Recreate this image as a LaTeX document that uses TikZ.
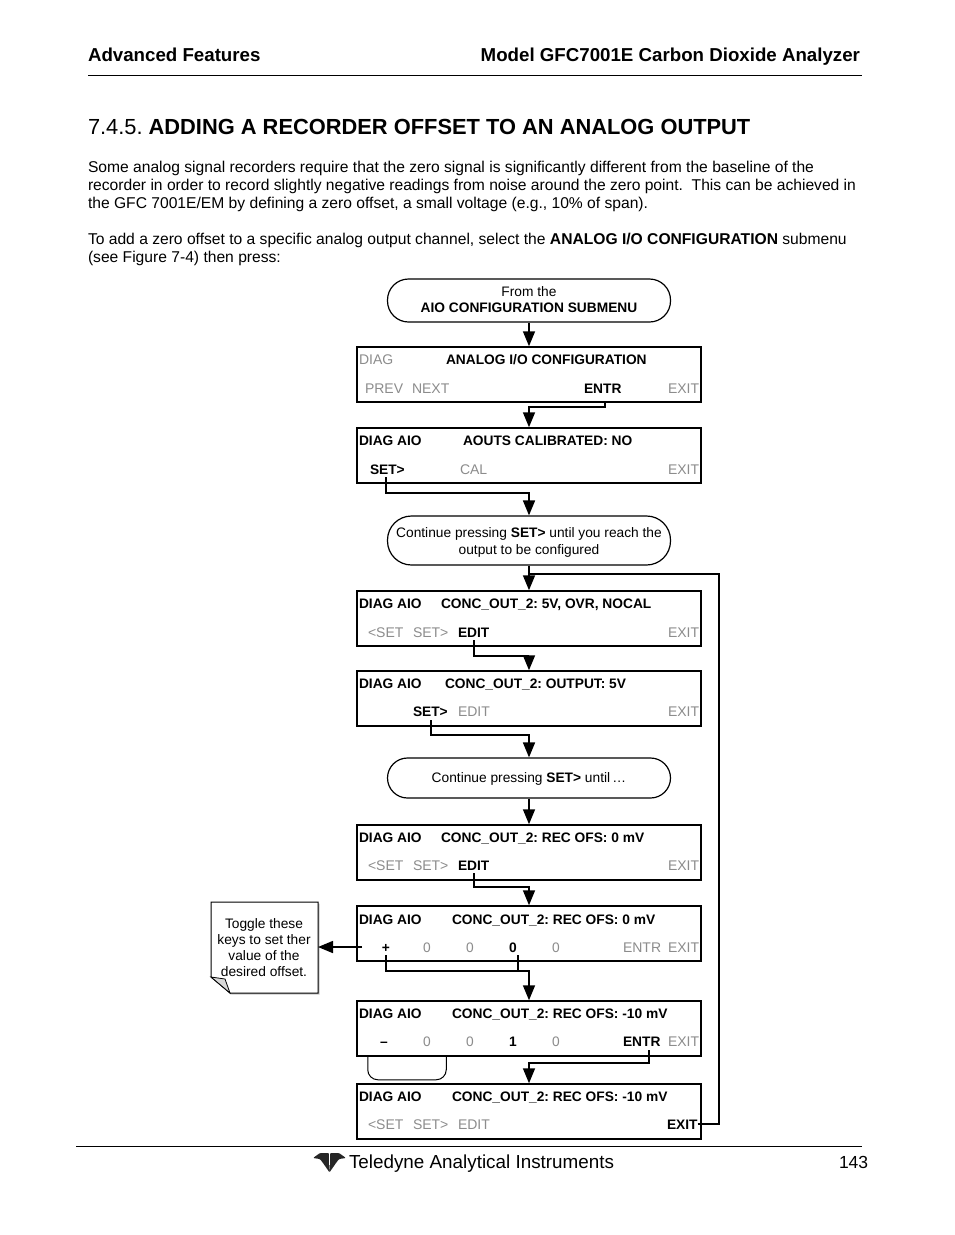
\documentclass[tikz,border=0pt]{standalone}
\usepackage{fontspec}
\usetikzlibrary{arrows.meta,calc}
\setmainfont{Liberation Sans}
\definecolor{keygray}{gray}{0.55}
\tikzset{
 txt/.style={anchor=base west,inner sep=0pt,outer sep=0pt,font=\fontsize{15.63}{18}\selectfont},
 ctxt/.style={anchor=base,inner sep=0pt,outer sep=0pt,font=\fontsize{13.75}{17}\selectfont},
 ltxt/.style={anchor=base west,inner sep=0pt,outer sep=0pt,font=\fontsize{14}{17}\selectfont},
 on/.style={font=\fontsize{13.75}{17}\selectfont\bfseries},
 off/.style={text=keygray},
 lcd/.style={draw,line width=1.5pt},
 term/.style={draw,line width=1.2pt},
 conn/.style={line width=1.6pt},
 arr/.style={conn,-{Triangle[length=15pt,width=12pt]}},
 rule/.style={line width=1.2pt},
 wing/.style={fill=black!85,rounded corners=1pt}
}
\begin{document}
\frenchspacing
\begin{tikzpicture}[x=1pt,y=-1pt]
\useasboundingbox (0,0) rectangle (954,1235);
\fill[white] (0,0) rectangle (954,1235);
% header
\node[txt,font=\fontsize{18.7}{20}\selectfont\bfseries] (h1) at (88,61) {Advanced Features};
\node[txt,anchor=base east,font=\fontsize{18.7}{20}\selectfont\bfseries] (h2) at (860,61) {Model GFC7001E Carbon Dioxide Analyzer};
\draw[rule] (88,75.5) -- (862,75.5);
\node[txt,font=\fontsize{21.85}{24}\selectfont] (ttl) at (88,134) {7.4.5.\hspace{6pt}\textbf{ADDING A RECORDER OFFSET TO AN ANALOG OUTPUT}};
\node[txt] (p1) at (88,172) {Some analog signal recorders require that the zero signal is significantly different from the baseline of the};
\node[txt] (p2) at (88,190) {recorder in order to record slightly negative readings from noise around the zero point.\ \ This can be achieved in};
\node[txt] (p3) at (88,208) {the GFC 7001E/EM by defining a zero offset, a small voltage (e.g., 10\% of span).};
\node[txt] (p4) at (88,244) {To add a zero offset to a specific analog output channel, select the \textbf{ANALOG I/O CONFIGURATION} submenu};
\node[txt] (p5) at (88,262) {(see Figure 7-4) then press:};
% terminators
\node[term,minimum width=283pt,minimum height=43pt,rounded corners=21pt] (t1) at (529,300.5) {};
\node[ctxt] at (529,296) {From the};
\node[ctxt,on] at (529,312) {AIO CONFIGURATION SUBMENU};
\node[term,minimum width=283pt,minimum height=49pt,rounded corners=24pt] (t2) at (529,540.5) {};
\node[ctxt] at (529,537) {Continue pressing \textbf{SET>} until you reach the};
\node[ctxt] at (529,554) {output to be configured};
\node[term,minimum width=283pt,minimum height=40pt,rounded corners=20pt] (t3) at (529,778) {};
\node[ctxt] at (529,782) {Continue pressing \textbf{SET>} until\,\dots};
% boxes
\foreach \n/\y in {b1/347,b2/428,b3/591,b4/671,b5/825,b6/906,b7/1001,b8/1084}
  \node[lcd,minimum width=344pt,minimum height=55pt,inner sep=0pt] (\n) at (529,\y+27.5) {};
% box 1
\node[ltxt,off] at (359,364) {DIAG};
\node[ltxt,on] at (446,364) {ANALOG I/O CONFIGURATION};
\node[ltxt,off] (k1a) at (365,393) {PREV};
\node[ltxt,off] (k1b) at (412,393) {NEXT};
\node[ltxt,on] (k1c) at (584,393) {ENTR};
\node[ltxt,off] (k1d) at (668,393) {EXIT};
% box 2
\node[ltxt,on] at (359,445) {DIAG AIO};
\node[ltxt,on] at (463,445) {AOUTS CALIBRATED: NO};
\node[ltxt,on] (k2a) at (370,474) {SET>};
\node[ltxt,off] (k2b) at (460,474) {CAL};
\node[ltxt,off] (k2c) at (668,474) {EXIT};
% box 3
\node[ltxt,on] at (359,608) {DIAG AIO};
\node[ltxt,on] at (441,608) {CONC\_OUT\_2: 5V, OVR, NOCAL};
\node[ltxt,off] at (368,637) {<SET};
\node[ltxt,off] at (413,637) {SET>};
\node[ltxt,on] (k3a) at (458,637) {EDIT};
\node[ltxt,off] at (668,637) {EXIT};
% box 4
\node[ltxt,on] at (359,688) {DIAG AIO};
\node[ltxt,on] at (445,688) {CONC\_OUT\_2: OUTPUT: 5V};
\node[ltxt,on] (k4a) at (413,716) {SET>};
\node[ltxt,off] at (458,716) {EDIT};
\node[ltxt,off] at (668,716) {EXIT};
% box 5
\node[ltxt,on] at (359,842) {DIAG AIO};
\node[ltxt,on] at (441,842) {CONC\_OUT\_2: REC OFS: 0 mV};
\node[ltxt,off] at (368,870) {<SET};
\node[ltxt,off] at (413,870) {SET>};
\node[ltxt,on] (k5a) at (458,870) {EDIT};
\node[ltxt,off] at (668,870) {EXIT};
% box 6
\node[ltxt,on] at (359,924) {DIAG AIO};
\node[ltxt,on] at (452,924) {CONC\_OUT\_2: REC OFS: 0 mV};
\node[ctxt,on] (k6a) at (386,952) {+};
\node[ctxt,off] at (427,952) {0};
\node[ctxt,off] at (470,952) {0};
\node[ctxt,on] (k6b) at (513,952) {0};
\node[ctxt,off] at (556,952) {0};
\node[ltxt,off] at (623,952) {ENTR};
\node[ltxt,off] at (668,952) {EXIT};
% box 7
\node[ltxt,on] at (359,1018) {DIAG AIO};
\node[ltxt,on] at (452,1018) {CONC\_OUT\_2: REC OFS: -10 mV};
\node[ctxt,on] (k7a) at (384,1046) {--};
\node[ctxt,off] at (427,1046) {0};
\node[ctxt,off] at (470,1046) {0};
\node[ctxt,on] (k7b) at (513,1046) {1};
\node[ctxt,off] at (556,1046) {0};
\node[ltxt,on] (k7c) at (623,1046) {ENTR};
\node[ltxt,off] at (668,1046) {EXIT};
% box 8
\node[ltxt,on] at (359,1101) {DIAG AIO};
\node[ltxt,on] at (452,1101) {CONC\_OUT\_2: REC OFS: -10 mV};
\node[ltxt,off] at (368,1129) {<SET};
\node[ltxt,off] at (413,1129) {SET>};
\node[ltxt,off] at (458,1129) {EDIT};
\node[ltxt,on] (k8a) at (667,1129) {EXIT};
% note
\fill[black!22] (212.5,903.5) -- (319.5,903.5) -- (319.5,994.5) -- (231.5,994.5) -- (212.5,978.5) -- cycle;
\draw[line width=1pt,fill=white] (211,902) -- (318,902) -- (318,993) -- (230,993) -- (211,977) -- cycle;
\draw[line width=.8pt,fill=black!15] (211,977) -- (225,979) -- (230,993) -- cycle;
\coordinate (nt) at (318,947);
\node[ctxt] at (264,928) {Toggle these};
\node[ctxt] at (264,944) {keys to set ther};
\node[ctxt] at (264,960) {value of the};
\node[ctxt] at (264,976) {desired offset.};
% connectors
\coordinate (lstart) at (362,947);
\coordinate (ret) at (719,574);
\coordinate (mrg) at (529,574);
\draw[arr] (t1.south) -- (b1.north);
\draw[arr] ($(k1c.south)+(2,9)$) -- ++(0,5) -| (b2.north);
\draw[arr] ($(k2a.south)+(-1.5,3)$) -- ++(0,16) -| (t2.north);
\draw[arr] (t2.south) -- (b3.north);
\draw[arr] ($(k3a.south)+(0.4,3)$) -- ++(0,16) -| (b4.north);
\draw[arr] ($(k4a.south)+(0.4,4)$) -- ++(0,15) -| (t3.north);
\draw[arr] (t3.south) -- (b5.north);
\draw[arr] ($(k5a.south)+(0.4,3)$) -- ++(0,14) -| (b6.north);
\draw[arr] ($(k6a.south)+(0,3)$) -- ++(0,16) -| (b7.north);
\draw[conn] ($(k6b.south)+(5,3)$) -- ++(0,16);
\draw[arr] (lstart) -- (nt);
\draw[arr] ($(k7c.south)+(7,4)$) -- ++(0,13) -| (b8.north);
\draw[line width=1pt,rounded corners=10pt] ($(b7.south west)+(11.5,0)$) -- ++(0,23) -- ++(78.5,0) -- ++(0,-23);
\draw[conn] (k8a.east) -| (ret) -- (mrg);
% footer
\draw[rule] (76,1146.5) -- (862,1146.5);
\fill[wing] (313,1158) -- (320,1153) -- (329,1153) -- (329.6,1172.5) -- (323,1163) -- (320,1159) -- cycle;
\fill[wing] (346,1158) -- (339,1153) -- (330,1153) -- (329.4,1172.5) -- (336,1163) -- (339,1159) -- cycle;
\draw[white,line width=.6pt] (329.5,1152) -- (329.5,1165);
\node[txt,font=\fontsize{18.85}{20}\selectfont] (f1) at (349,1168) {Teledyne Analytical Instruments};
\node[txt,font=\fontsize{17.5}{20}\selectfont] (f2) at (839,1168) {143};
\end{tikzpicture}
\end{document}
